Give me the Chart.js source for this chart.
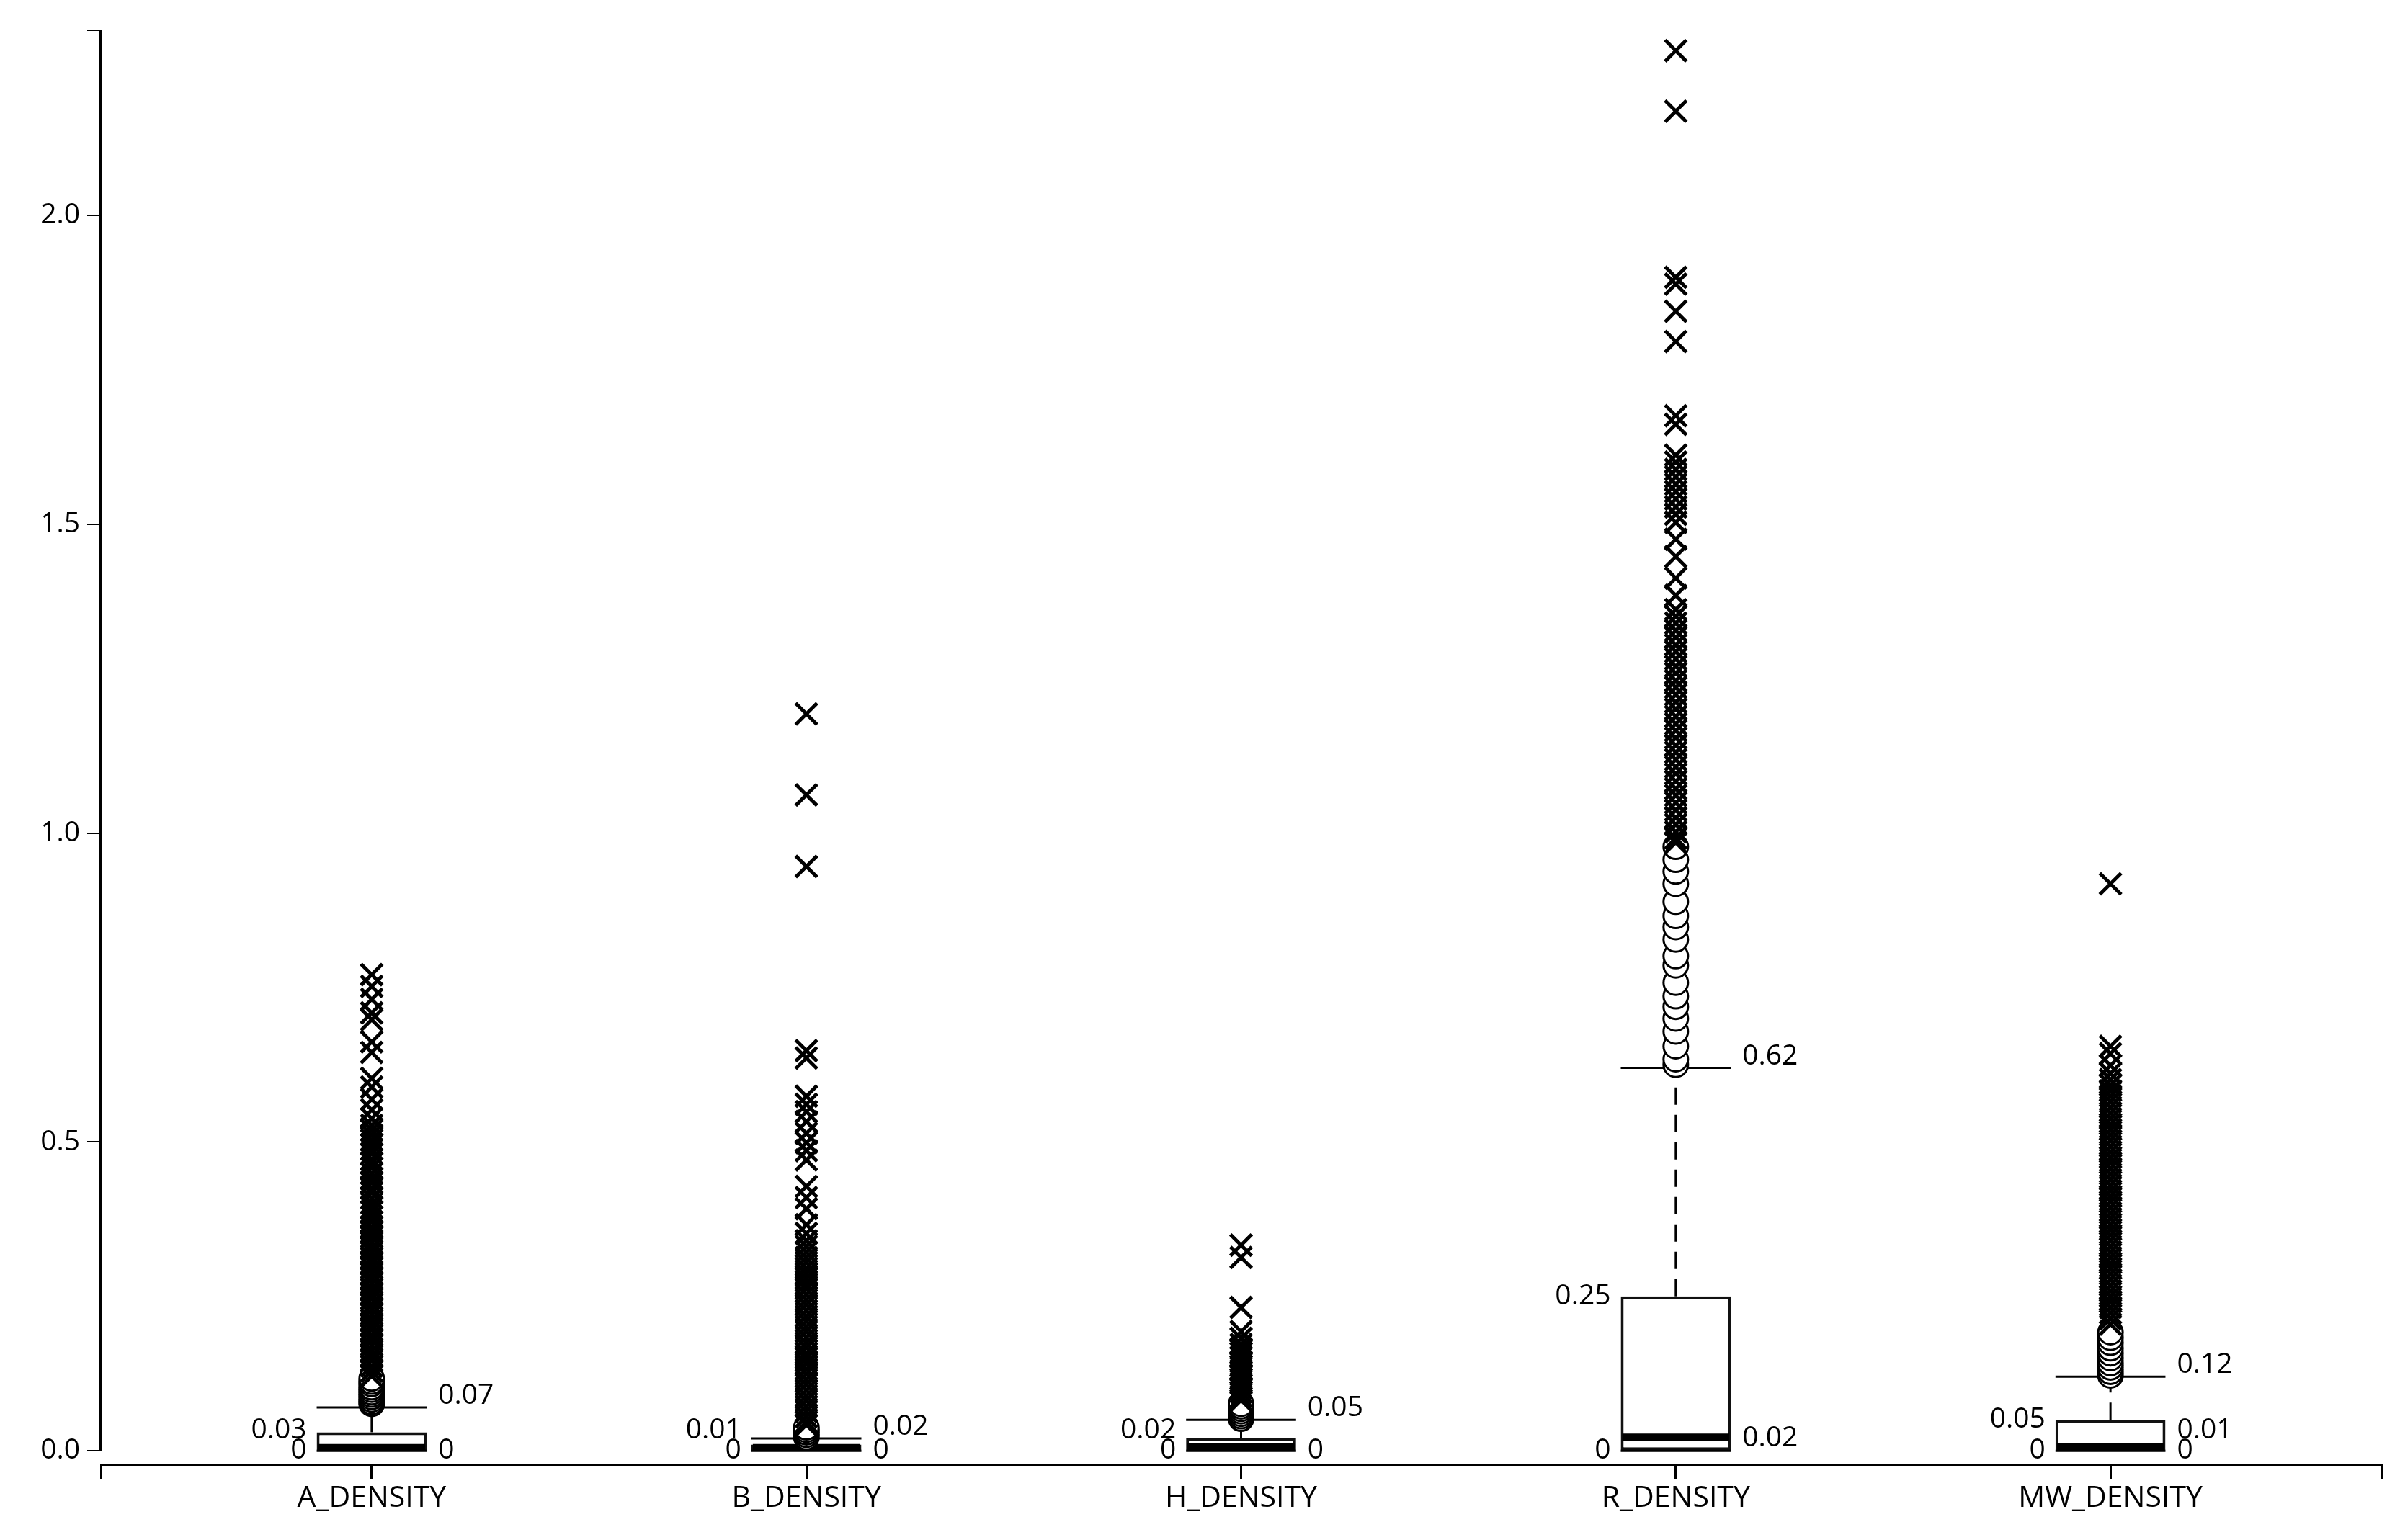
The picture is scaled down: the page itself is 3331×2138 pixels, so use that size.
<!DOCTYPE html>
<html>
<head>
<meta charset="utf-8">
<script src="https://cdn.jsdelivr.net/npm/chart.js@4.4.1/dist/chart.umd.min.js"></script>
<style>
  body { margin: 0; background: #fff; }
  #wrap { width: 3331px; height: 2138px; }
</style>
</head>
<body>
<div id="wrap"><canvas id="boxChart"></canvas></div>
<script>
// box statistics per variable
const categories = ['A_DENSITY', 'B_DENSITY', 'H_DENSITY', 'R_DENSITY', 'MW_DENSITY'];
const q1Values = [0, 0, 0, 0, 0];
const medianValues = [0.005, 0.005, 0.006, 0.022, 0.006];
const q3Values = [0.03, 0.01, 0.02, 0.25, 0.05];
const whiskerLow = [0, 0, 0, 0, 0];
const whiskerHigh = [0.07, 0.02, 0.05, 0.62, 0.12];

// value labels beside the boxes (upper whisker label is added on the right)
const leftLabelValues = [[0.03, 0], [0.01, 0], [0.02, 0], [0.25, 0], [0.05, 0]];
const rightLabelValues = [[0], [0], [0], [0.02], [0.01, 0]];

const yTicks = [0, 0.5, 1.0, 1.5, 2.0];
const yMax = 2.3;
const xMin = -0.623;
const xMax = 4.623;
const boxWidth = 0.253; // in category units

// outliers (circles)
const outliersA = [0.076, 0.079, 0.083, 0.087, 0.091, 0.095, 0.099, 0.103, 0.108, 0.112, 0.117];
const outliersB = [0.022, 0.026, 0.030, 0.034, 0.038];
const outliersH = [0.052, 0.056, 0.060, 0.064, 0.068, 0.072, 0.076];
const outliersR = [0.625, 0.634, 0.655, 0.679, 0.700, 0.719, 0.736, 0.758, 0.786, 0.801, 0.828,
  0.848, 0.866, 0.889, 0.918, 0.938, 0.957, 0.978];
const outliersMW = [0.122, 0.128, 0.135, 0.142, 0.150, 0.158, 0.166, 0.175, 0.183, 0.192];

// extreme values (crosses)
const extremesA = [0.771, 0.752, 0.731, 0.709, 0.698, 0.662, 0.645, 0.603, 0.589, 0.569, 0.552, 0.538,
  0.527, 0.519, 0.511, 0.503, 0.496, 0.488, 0.481, 0.472, 0.466, 0.458, 0.449, 0.441, 0.434, 0.425,
  0.418, 0.409, 0.401, 0.394, 0.387, 0.379, 0.371, 0.362, 0.354, 0.346, 0.337, 0.329, 0.321, 0.312,
  0.304, 0.296, 0.287, 0.279, 0.271, 0.262, 0.254, 0.246, 0.237, 0.229, 0.221, 0.212, 0.204, 0.196,
  0.187, 0.179, 0.171, 0.162, 0.154, 0.146, 0.137, 0.129, 0.121];
const extremesB = [1.193, 1.062, 0.946, 0.648, 0.636, 0.574, 0.561, 0.549, 0.533, 0.514, 0.499, 0.486,
  0.471, 0.428, 0.410, 0.392, 0.366, 0.352, 0.340, 0.331, 0.322, 0.313, 0.305, 0.296, 0.287, 0.279,
  0.270, 0.262, 0.253, 0.244, 0.236, 0.227, 0.218, 0.210, 0.201, 0.193, 0.184, 0.175, 0.167, 0.158,
  0.150, 0.141, 0.132, 0.124, 0.115, 0.107, 0.098, 0.089, 0.081, 0.072, 0.064, 0.055, 0.047, 0.042];
const extremesH = [0.333, 0.313, 0.232, 0.193, 0.182, 0.172, 0.165, 0.158, 0.151, 0.144, 0.137, 0.130,
  0.123, 0.116, 0.109, 0.102, 0.095, 0.088, 0.082];
const extremesR = [2.267, 2.169, 1.900, 1.889, 1.845, 1.796, 1.676, 1.662, 1.612, 1.601, 1.589, 1.577,
  1.565, 1.553, 1.541, 1.528, 1.516, 1.503, 1.476, 1.448, 1.413, 1.385, 1.362, 1.351, 1.340, 1.328,
  1.317, 1.305, 1.294, 1.282, 1.270, 1.259, 1.247, 1.236, 1.224, 1.212, 1.201, 1.189, 1.177, 1.166,
  1.154, 1.142, 1.131, 1.119, 1.107, 1.096, 1.084, 1.072, 1.061, 1.049, 1.037, 1.025, 1.014, 1.002,
  0.992, 0.985];
const extremesMW = [0.918, 0.655, 0.643, 0.624, 0.611, 0.601, 0.592, 0.583, 0.574, 0.565, 0.556, 0.547,
  0.538, 0.529, 0.520, 0.511, 0.502, 0.493, 0.484, 0.475, 0.466, 0.457, 0.448, 0.439, 0.430, 0.421,
  0.412, 0.403, 0.394, 0.385, 0.376, 0.367, 0.358, 0.349, 0.340, 0.331, 0.322, 0.313, 0.304, 0.295,
  0.286, 0.277, 0.268, 0.259, 0.250, 0.241, 0.232, 0.223, 0.214, 0.205];

const outlierSets = [outliersA, outliersB, outliersH, outliersR, outliersMW];
const extremeSets = [extremesA, extremesB, extremesH, extremesR, extremesMW];

const FAMILY = '"Open Sans", "Noto Sans", sans-serif';
const TEXT_COLOR = '#000';

function toPoints(sets) {
    let pts = [];
    sets.forEach((vals, i) => vals.forEach(v => pts.push({ x: i, y: v })));
    return pts;
}

function fmt(v) {
    return v === 0 ? '0' : v.toFixed(2);
}

// median, whiskers, caps and value labels drawn with the chart's own scales
const boxParts = {
    id: 'boxParts',
    afterDatasetDraw(chart, args) {
        if (args.meta.type !== 'bar') return;
        const ctx = chart.ctx;
        const yScale = chart.scales.y;
        ctx.save();
        ctx.strokeStyle = '#000';
        args.meta.data.forEach((bar, i) => {
            const half = bar.width / 2;
            // whisker
            ctx.lineWidth = 3;
            ctx.setLineDash([24, 14]);
            ctx.beginPath();
            ctx.moveTo(bar.x, yScale.getPixelForValue(q3Values[i]));
            ctx.lineTo(bar.x, yScale.getPixelForValue(whiskerHigh[i]));
            ctx.stroke();
            ctx.setLineDash([]);
            // caps
            [whiskerHigh[i], whiskerLow[i]].forEach(v => {
                const py = yScale.getPixelForValue(v);
                ctx.beginPath();
                ctx.moveTo(bar.x - half, py);
                ctx.lineTo(bar.x + half, py);
                ctx.stroke();
            });
            // median
            const my = yScale.getPixelForValue(medianValues[i]);
            ctx.lineWidth = 10;
            ctx.beginPath();
            ctx.moveTo(bar.x - half + 2, my);
            ctx.lineTo(bar.x + half - 2, my);
            ctx.stroke();
        });
        ctx.restore();
    },
    afterDraw(chart) {
        const ctx = chart.ctx;
        const yScale = chart.scales.y;
        const area = chart.chartArea;
        ctx.save();
        // y axis line from top down to zero
        ctx.strokeStyle = '#000';
        ctx.lineWidth = 4;
        ctx.beginPath();
        ctx.moveTo(area.left, yScale.getPixelForValue(yMax));
        ctx.lineTo(area.left, yScale.getPixelForValue(0));
        ctx.stroke();

        // labels
        ctx.font = '39px ' + FAMILY;
        ctx.fillStyle = TEXT_COLOR;
        ctx.textBaseline = 'middle';
        const meta = chart.getDatasetMeta(0);
        meta.data.forEach((bar, i) => {
            const half = bar.width / 2;
            const place = (items) => {
                items.sort((a, b) => a.value - b.value);
                let prev = Infinity;
                items.forEach(it => {
                    let py = yScale.getPixelForValue(it.value) - it.lift;
                    if (py > prev - 28) py = prev - 28;
                    it.py = py;
                    prev = py;
                });
                return items;
            };
            const left = place(leftLabelValues[i].map(v => ({ value: v, lift: 0 })));
            const right = place([{ value: whiskerHigh[i], lift: 16 }]
                .concat(rightLabelValues[i].map(v => ({ value: v, lift: 0 }))));
            ctx.textAlign = 'right';
            left.forEach(it => ctx.fillText(fmt(it.value), bar.x - half - 14, it.py));
            ctx.textAlign = 'left';
            right.forEach(it => ctx.fillText(fmt(it.value), bar.x + half + 16, it.py));
        });
        ctx.restore();
    }
};

const ctx = document.getElementById('boxChart').getContext('2d');
const boxChart = new Chart(ctx, {
    type: 'bar',
    data: {
        datasets: [
            {
                type: 'bar',
                data: categories.map((c, i) => ({ x: i, y: [q1Values[i], q3Values[i]] })),
                backgroundColor: '#fff',
                borderColor: '#111',
                borderWidth: 4,
                borderSkipped: false,
                // bar ruler uses the smallest tick gap (axis end to first category)
                barPercentage: boxWidth / (0 - xMin),
                categoryPercentage: 1,
                order: 3
            },
            {
                type: 'scatter',
                data: toPoints(outlierSets),
                pointStyle: 'circle',
                pointRadius: 17,
                pointBorderWidth: 3,
                pointBackgroundColor: '#fff',
                pointBorderColor: '#000',
                order: 2
            },
            {
                type: 'scatter',
                data: toPoints(extremeSets),
                pointStyle: 'crossRot',
                pointRadius: 21,
                pointBorderWidth: 5,
                pointBorderColor: '#000',
                order: 1
            }
        ]
    },
    options: {
        responsive: true,
        maintainAspectRatio: false,
        animation: false,
        layout: { padding: { top: 42, right: 23, left: 0, bottom: 0 } },
        plugins: {
            legend: { display: false },
            tooltip: { enabled: false }
        },
        scales: {
            x: {
                type: 'linear',
                min: xMin,
                max: xMax,
                offset: false,
                afterBuildTicks: scale => {
                    scale.ticks = [{ value: xMin }]
                        .concat(categories.map((c, i) => ({ value: i })))
                        .concat([{ value: xMax }]);
                },
                afterFit: scale => { scale.height = 105; },
                border: { display: true, color: '#000', width: 3 },
                grid: { offset: false, drawOnChartArea: false, drawTicks: true, tickLength: 21, color: '#000', lineWidth: 3 },
                ticks: {
                    autoSkip: false,
                    maxRotation: 0,
                    padding: 2,
                    color: TEXT_COLOR,
                    font: { family: FAMILY, size: 41 },
                    callback: v => (Number.isInteger(v) ? categories[v] : '')
                }
            },
            y: {
                min: -0.022,
                max: yMax,
                afterBuildTicks: scale => {
                    scale.ticks = yTicks.concat([yMax]).map(v => ({ value: v }));
                },
                afterFit: scale => { scale.width = 140; },
                border: { display: false },
                grid: { drawOnChartArea: false, drawTicks: true, tickLength: 19, color: '#000', lineWidth: 2 },
                ticks: {
                    autoSkip: false,
                    padding: 10,
                    color: TEXT_COLOR,
                    font: { family: FAMILY, size: 39 },
                    callback: v => (v === yMax ? '' : v.toFixed(1))
                }
            }
        }
    },
    plugins: [boxParts]
});
</script>
</body>
</html>
